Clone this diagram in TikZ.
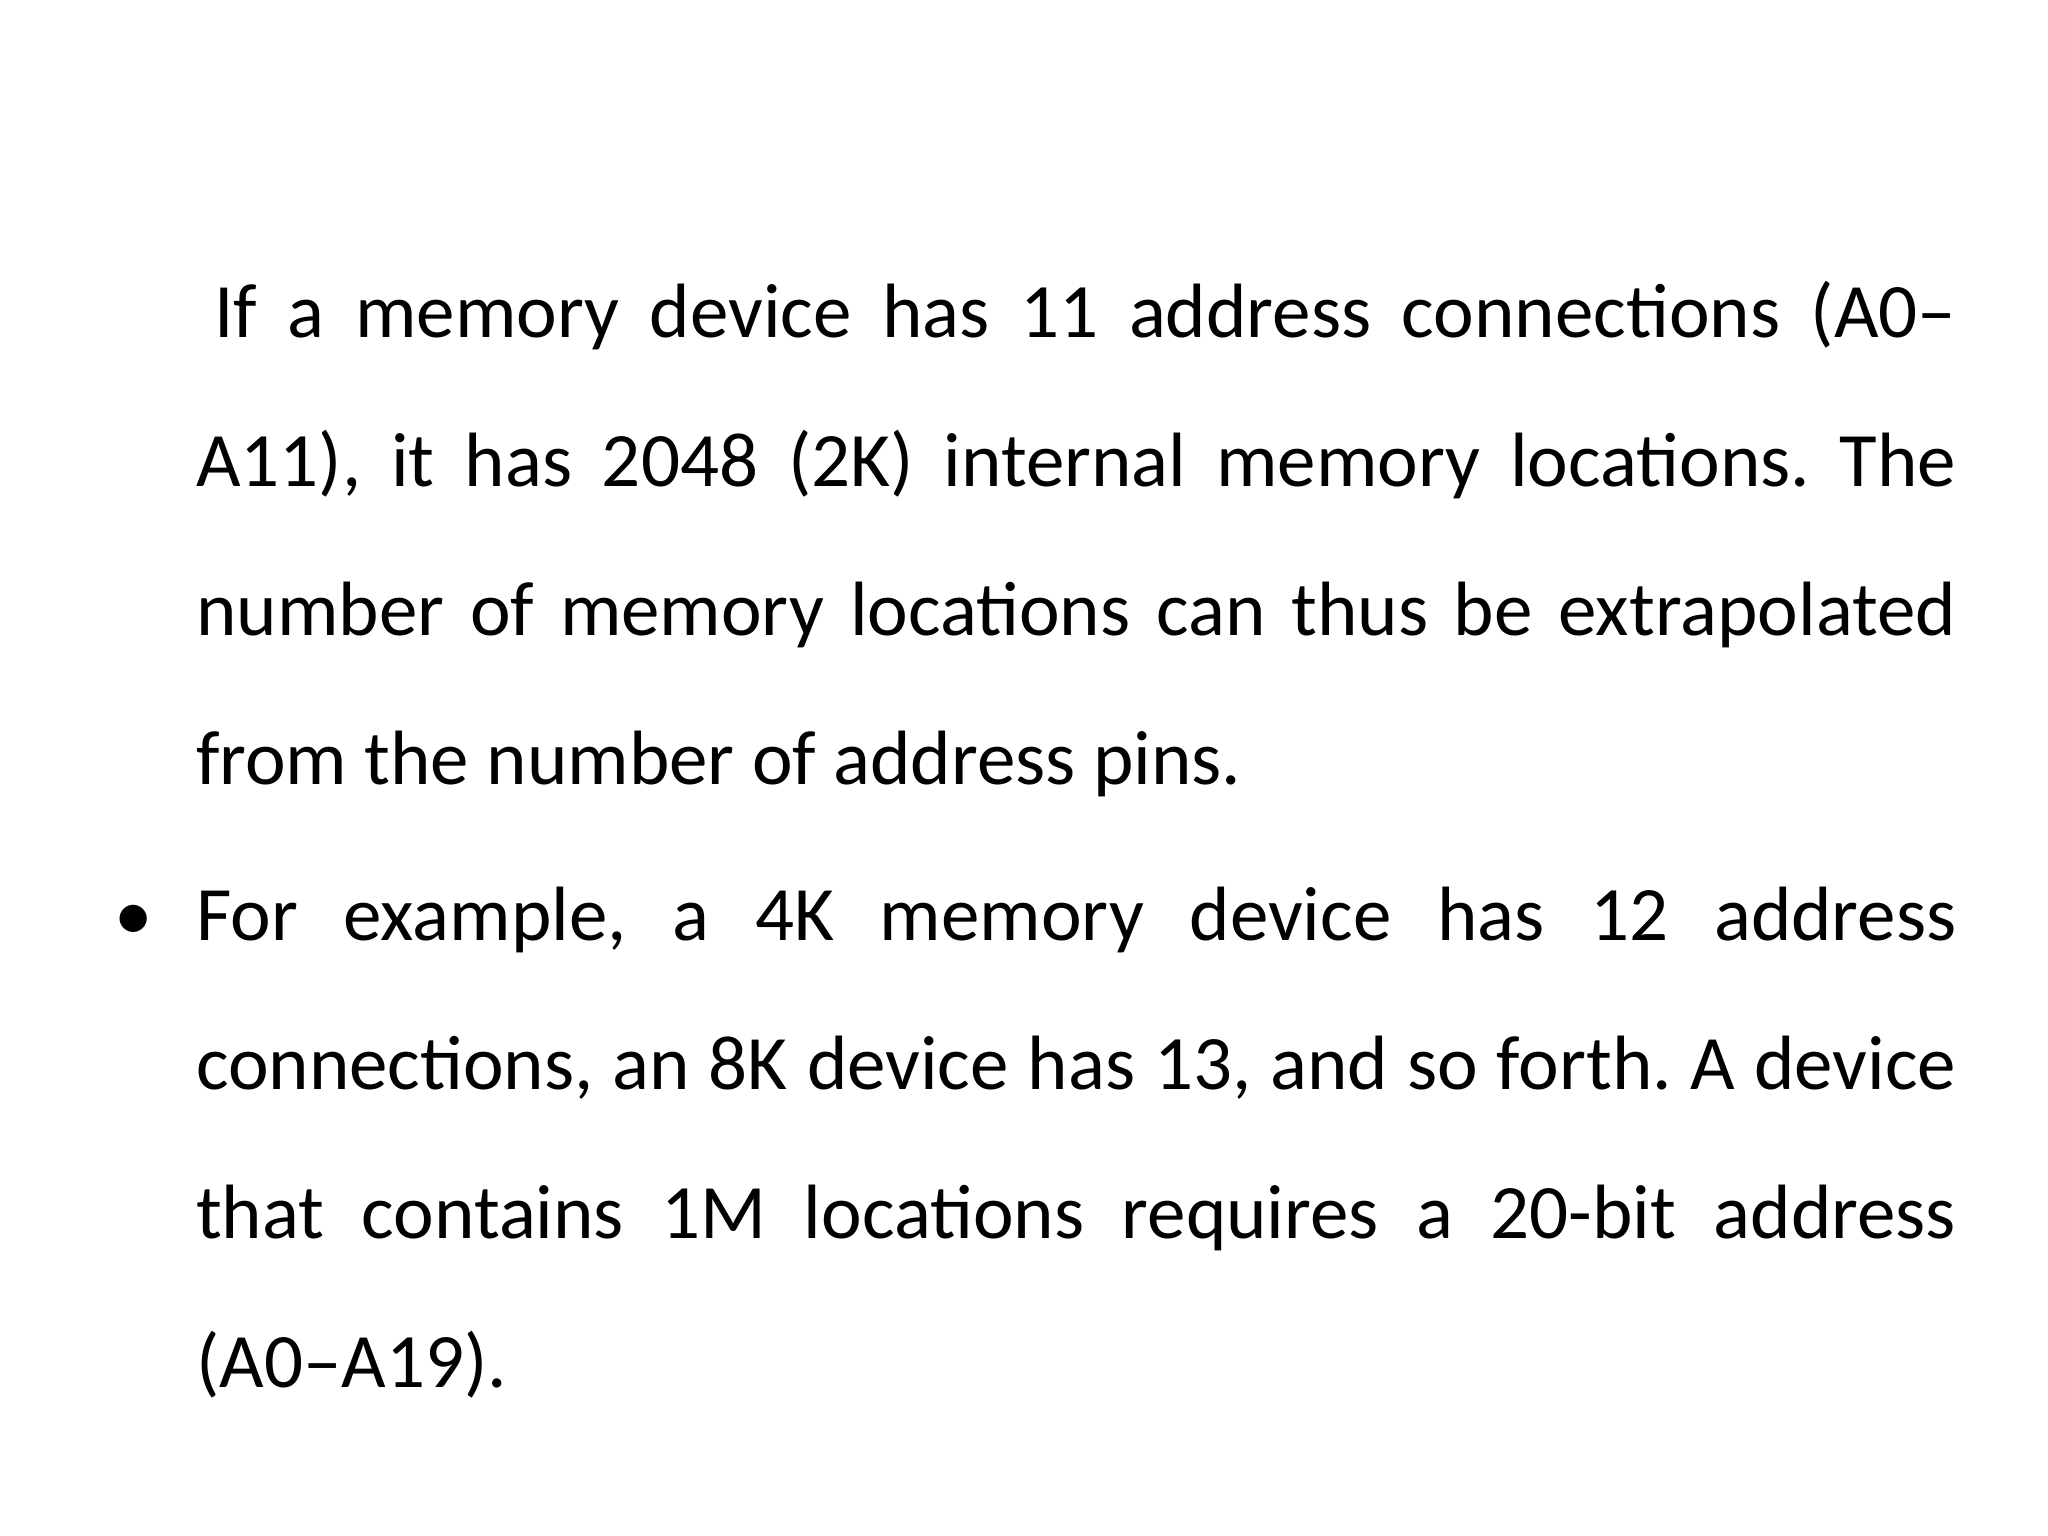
\documentclass[tikz,border=0pt]{standalone}
\usepackage{fontspec}
\setmainfont{Carlito}
\begin{document}
\begin{tikzpicture}[x=1pt,y=-1pt,
  para/.style={anchor=base west,inner sep=0pt,text width=1760pt,align=justify,
    font=\fontsize{77}{149}\selectfont\frenchspacing}]
\useasboundingbox[fill=white] (0,0) rectangle (2048,1536);
\node[para] (p1) at (196,337) {\hspace*{18pt}If a memory device has 11 address connections (A0–\linebreak A11), it has 2048 (2K) internal memory locations. The\linebreak number of memory locations can thus be extrapolated\linebreak from the number of address pins.};
\node[para] (p2) at (196,940) {For example, a 4K memory device has 12 address\linebreak connections, an 8K device has 13, and so forth. A device\linebreak that contains 1M locations requires a 20-bit address\linebreak (A0–A19).};
\node[anchor=base,inner sep=0pt,font=\fontsize{77}{77}\selectfont] (b) at (134,940) {•};
\end{tikzpicture}
\end{document}
